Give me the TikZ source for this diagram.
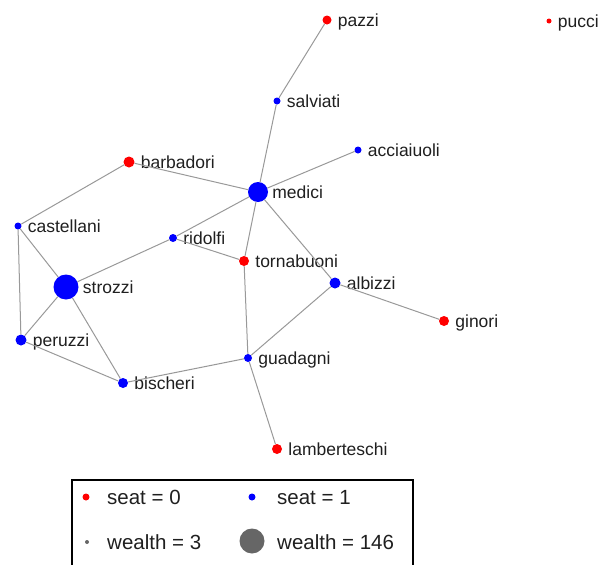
\documentclass[tikz,border=0pt]{standalone}
\usepackage{fontspec}
\setmainfont{Liberation Sans}
\begin{document}
\begin{tikzpicture}[x=1pt, y=-1pt,
  family/.style={circle, inner sep=0pt, minimum size=#1},
  seatzero/.style={family=#1, fill=red},
  seatone/.style={family=#1, fill=blue},
  famname/.style={inner sep=0pt, font=\fontsize{17.5}{17.5}\selectfont,
    text height=12.5pt, text depth=0pt, text=black!88},
  label distance=6pt,
  tie/.style={draw=black!40, line width=1pt},
  keytext/.style={inner sep=0pt, anchor=west, font=\fontsize{20.5}{20.5}\selectfont,
    text height=14.6pt, text depth=0pt, text=black!88},
]
\useasboundingbox (0,0) rectangle (598,565);
\clip (0,0) rectangle (598,565);

% families (seat = 0 red, seat = 1 blue; size by wealth)
\node[seatzero=9,  label={[famname]right:pazzi}]        (pazzi)        at (327,20)  {};
\node[seatzero=5,  label={[famname]right:pucci}]        (pucci)        at (549,21)  {};
\node[seatone=7,   label={[famname]right:salviati}]     (salviati)     at (277,101) {};
\node[seatone=7,   label={[famname]right:acciaiuoli}]   (acciaiuoli)   at (358,150) {};
\node[seatzero=11, label={[famname]right:barbadori}]    (barbadori)    at (129,162) {};
\node[seatone=20,  label={[famname,label distance=4pt]right:medici}] (medici) at (258,192) {};
\node[seatone=7,   label={[famname]right:castellani}]   (castellani)   at (18,226)  {};
\node[seatone=8,   label={[famname]right:ridolfi}]      (ridolfi)      at (173,238) {};
\node[seatzero=10, label={[famname]right:tornabuoni}]   (tornabuoni)   at (244,261) {};
\node[seatone=11,  label={[famname]right:albizzi}]      (albizzi)      at (335,283) {};
\node[seatone=25,  label={[famname,label distance=4pt]right:strozzi}] (strozzi) at (66,287) {};
\node[seatzero=10, label={[famname]right:ginori}]       (ginori)       at (444,321) {};
\node[seatone=11,  label={[famname]right:peruzzi}]      (peruzzi)      at (21,340)  {};
\node[seatone=8,   label={[famname]right:guadagni}]     (guadagni)     at (248,358) {};
\node[seatone=10,  label={[famname]right:bischeri}]     (bischeri)     at (123,383) {};
\node[seatzero=10, label={[famname]right:lamberteschi}] (lamberteschi) at (277,449) {};

% marriage ties
\foreach \a/\b in {pazzi/salviati, salviati/medici, medici/acciaiuoli,
  medici/barbadori, barbadori/castellani, castellani/strozzi,
  castellani/peruzzi, medici/ridolfi, ridolfi/strozzi, ridolfi/tornabuoni,
  medici/tornabuoni, medici/albizzi, tornabuoni/guadagni, albizzi/guadagni,
  albizzi/ginori, strozzi/peruzzi, strozzi/bischeri, peruzzi/bischeri,
  bischeri/guadagni, guadagni/lamberteschi}
  \draw[tie] (\a) -- (\b);

% legend
\draw[line width=1.3pt] (72,480) rectangle (413,580);
\node[seatzero=7] (kred) at (86,497) {};
\node[keytext] (kredt) at (107,497) {seat = 0};
\node[seatone=7] (kblue) at (252,497) {};
\node[keytext] (kbluet) at (277,497) {seat = 1};
\node[family=4, fill=black!60] (ksmall) at (87,542) {};
\node[keytext] (ksmallt) at (107,542) {wealth = 3};
\node[family=25, fill=black!60] (kbig) at (252,541) {};
\node[keytext] (kbigt) at (277,542) {wealth = 146};
\end{tikzpicture}
\end{document}
